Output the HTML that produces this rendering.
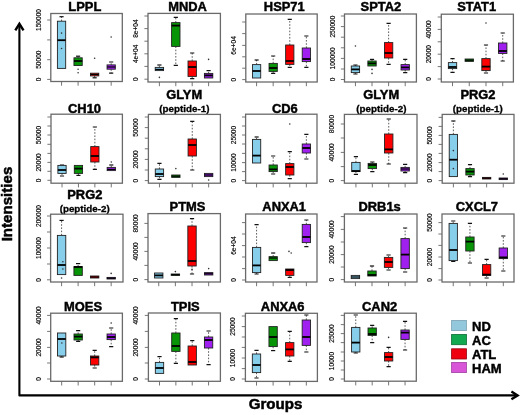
<!DOCTYPE html>
<html><head><meta charset="utf-8"><style>
html,body{margin:0;padding:0;background:#fff;width:520px;height:415px;overflow:hidden}
svg{display:block;will-change:transform;filter:blur(0.3px)}
text{font-family:"Liberation Sans",sans-serif}
.t{font-size:12.9px;font-weight:bold;text-anchor:middle;fill:#000;stroke:#000;stroke-width:0.45}
.s{font-size:9.8px;font-weight:bold;text-anchor:middle;fill:#000;stroke:#000;stroke-width:0.3}
.yl{font-size:6.6px;text-anchor:middle;fill:#000;stroke:#000;stroke-width:0.15}
.lg{font-size:13px;font-weight:bold;fill:#000;stroke:#000;stroke-width:0.45}
.ax{font-size:15.1px;font-weight:bold;text-anchor:middle;fill:#000;stroke:#000;stroke-width:0.5}
.fr{fill:none;stroke:#6a6a6a;stroke-width:1.3}
.tk{fill:none;stroke:#666;stroke-width:0.9}
.bx{stroke:#222;stroke-width:0.9}
.md{stroke:#000;stroke-width:1.8}
.wk{stroke:#333;stroke-width:0.8;stroke-dasharray:1.6 1.6;fill:none}
.cp{stroke:#111;stroke-width:1.2;fill:none}
.ol{fill:#333}
</style></head><body>
<svg width="520" height="415" viewBox="0 0 520 415">
<rect width="520" height="415" fill="#fff"/>
<text x="84.8" y="10.5" class="t">LPPL</text>
<rect x="50.8" y="13.5" width="71.5" height="68" class="fr"/>
<path d="M50.8 20h-3.6M50.8 39.9h-3.6M50.8 59.7h-3.6M50.8 79.4h-3.6M61.55 81.5v4.2M78.09 81.5v4.2M94.63 81.5v4.2M111.18 81.5v4.2" class="tk"/>
<text transform="translate(40.8 20) rotate(-90)" class="yl">150000</text>
<text transform="translate(40.8 59.7) rotate(-90)" class="yl">50000</text>
<text transform="translate(40.8 79.4) rotate(-90)" class="yl">0</text>
<path d="M61.55 21.2V16.7" class="wk"/>
<path d="M59.48 16.7h4.14" class="cp"/>
<rect x="57.41" y="21.2" width="8.27" height="47.2" fill="#87ceeb" class="bx"/>
<path d="M57.41 40.2h8.27" class="md"/>
<circle cx="61.55" cy="33.1" r="0.8" class="ol"/>
<circle cx="61.55" cy="48.5" r="0.8" class="ol"/>
<path d="M78.09 57.8V56.2" class="wk"/>
<path d="M76.02 56.2h4.14" class="cp"/>
<rect x="73.95" y="57.8" width="8.27" height="7.7" fill="#079507" class="bx"/>
<path d="M73.95 61h8.27" class="md"/>
<circle cx="78.09" cy="69.2" r="0.8" class="ol"/>
<circle cx="78.09" cy="72.8" r="0.8" class="ol"/>
<path d="M94.63 75.9V77.8" class="wk"/>
<path d="M92.57 77.8h4.14" class="cp"/>
<rect x="90.5" y="73.2" width="8.27" height="2.7" fill="#ff0000" class="bx"/>
<path d="M90.5 74.5h8.27" class="md" style="stroke-width:1.2"/>
<circle cx="94.63" cy="58.2" r="0.8" class="ol"/>
<path d="M111.18 64.9V62M111.18 69.2V73.2" class="wk"/>
<path d="M109.11 62h4.14M109.11 73.2h4.14" class="cp"/>
<rect x="107.04" y="64.9" width="8.27" height="4.3" fill="#a020f0" class="bx"/>
<path d="M107.04 67h8.27" class="md" style="stroke-width:1.2"/>
<circle cx="111.18" cy="37" r="0.8" class="ol"/>
<text x="187.5" y="10.5" class="t">MNDA</text>
<rect x="148" y="13.4" width="72.4" height="68.6" class="fr"/>
<path d="M148 16h-3.6M148 28.6h-3.6M148 41.2h-3.6M148 53.8h-3.6M148 66.4h-3.6M148 79.2h-3.6M159.4 82v4.2M175.8 82v4.2M192.2 82v4.2M208.6 82v4.2" class="tk"/>
<text transform="translate(138 28.6) rotate(-90)" class="yl">8e+04</text>
<text transform="translate(138 53.8) rotate(-90)" class="yl">4e+04</text>
<text transform="translate(138 79.2) rotate(-90)" class="yl">0</text>
<path d="M159.4 67.4V65" class="wk"/>
<path d="M157.31 65h4.19" class="cp"/>
<rect x="155.21" y="67.4" width="8.38" height="3.2" fill="#87ceeb" class="bx"/>
<path d="M155.21 69.4h8.38" class="md" style="stroke-width:1.2"/>
<circle cx="159.4" cy="77.4" r="0.8" class="ol"/>
<path d="M175.8 22.6V17.4M175.8 46.4V65.4" class="wk"/>
<path d="M173.71 17.4h4.19M173.71 65.4h4.19" class="cp"/>
<rect x="171.61" y="22.6" width="8.38" height="23.8" fill="#079507" class="bx"/>
<path d="M171.61 25.6h8.38" class="md"/>
<path d="M192.2 61V53M192.2 76.4V78.6" class="wk"/>
<path d="M190.11 53h4.19M190.11 78.6h4.19" class="cp"/>
<rect x="188.01" y="61" width="8.38" height="15.4" fill="#ff0000" class="bx"/>
<path d="M188.01 67h8.38" class="md"/>
<path d="M208.6 73.4V70.6" class="wk"/>
<path d="M206.51 70.6h4.19" class="cp"/>
<rect x="204.41" y="73.4" width="8.38" height="4.6" fill="#a020f0" class="bx"/>
<path d="M204.41 75.4h8.38" class="md"/>
<circle cx="208.6" cy="59.4" r="0.8" class="ol"/>
<text x="284.25" y="10.5" class="t">HSP71</text>
<rect x="245.8" y="14" width="71.4" height="68" class="fr"/>
<path d="M245.8 22h-3.6M245.8 33.6h-3.6M245.8 45.4h-3.6M245.8 56.8h-3.6M245.8 68.2h-3.6M245.8 79.6h-3.6M256.59 82v4.2M273.18 82v4.2M289.77 82v4.2M306.36 82v4.2" class="tk"/>
<text transform="translate(235.8 45.4) rotate(-90)" class="yl">6e+04</text>
<text transform="translate(235.8 79.6) rotate(-90)" class="yl">0</text>
<path d="M256.59 64.6V60" class="wk"/>
<path d="M254.52 60h4.13" class="cp"/>
<rect x="252.46" y="64.6" width="8.26" height="13.4" fill="#87ceeb" class="bx"/>
<path d="M252.46 71h8.26" class="md"/>
<path d="M273.18 63.4V56M273.18 71.4V73.4" class="wk"/>
<path d="M271.11 56h4.13M271.11 73.4h4.13" class="cp"/>
<rect x="269.05" y="63.4" width="8.26" height="8" fill="#079507" class="bx"/>
<path d="M269.05 68h8.26" class="md"/>
<path d="M289.77 45V19.4M289.77 64.4V67.4" class="wk"/>
<path d="M287.7 19.4h4.13M287.7 67.4h4.13" class="cp"/>
<rect x="285.64" y="45" width="8.26" height="19.4" fill="#ff0000" class="bx"/>
<path d="M285.64 61h8.26" class="md"/>
<path d="M306.36 48V36M306.36 61.6V67.4" class="wk"/>
<path d="M304.29 36h4.13M304.29 67.4h4.13" class="cp"/>
<rect x="302.23" y="48" width="8.26" height="13.6" fill="#a020f0" class="bx"/>
<path d="M302.23 59h8.26" class="md"/>
<text x="380.9" y="10.5" class="t">SPTA2</text>
<rect x="344.5" y="14" width="71.9" height="68" class="fr"/>
<path d="M344.5 16h-3.6M344.5 26.6h-3.6M344.5 37.2h-3.6M344.5 47.8h-3.6M344.5 58.4h-3.6M344.5 69h-3.6M344.5 79.5h-3.6M355.44 82v4.2M372.03 82v4.2M388.62 82v4.2M405.21 82v4.2" class="tk"/>
<text transform="translate(334.5 26.6) rotate(-90)" class="yl">250000</text>
<text transform="translate(334.5 58.4) rotate(-90)" class="yl">100000</text>
<text transform="translate(334.5 79.5) rotate(-90)" class="yl">0</text>
<path d="M355.44 66V65M355.44 72.6V74" class="wk"/>
<path d="M353.36 65h4.16M353.36 74h4.16" class="cp"/>
<rect x="351.28" y="66" width="8.32" height="6.6" fill="#87ceeb" class="bx"/>
<path d="M351.28 69.4h8.32" class="md"/>
<circle cx="355.44" cy="46" r="0.8" class="ol"/>
<path d="M372.03 61V59.4" class="wk"/>
<path d="M369.95 59.4h4.16" class="cp"/>
<rect x="367.87" y="61" width="8.32" height="5" fill="#079507" class="bx"/>
<path d="M367.87 63.4h8.32" class="md"/>
<circle cx="372.03" cy="69.4" r="0.8" class="ol"/>
<circle cx="372.03" cy="73.4" r="0.8" class="ol"/>
<path d="M388.62 42.6V23.4M388.62 58V64.4" class="wk"/>
<path d="M386.54 23.4h4.16M386.54 64.4h4.16" class="cp"/>
<rect x="384.46" y="42.6" width="8.32" height="15.4" fill="#ff0000" class="bx"/>
<path d="M384.46 53h8.32" class="md"/>
<path d="M405.21 64.6V59.4M405.21 70V72.6" class="wk"/>
<path d="M403.13 59.4h4.16M403.13 72.6h4.16" class="cp"/>
<rect x="401.05" y="64.6" width="8.32" height="5.4" fill="#a020f0" class="bx"/>
<path d="M401.05 67.4h8.32" class="md"/>
<text x="476.7" y="10.5" class="t">STAT1</text>
<rect x="441.3" y="14.2" width="72.1" height="67.8" class="fr"/>
<path d="M441.3 17h-3.6M441.3 29.4h-3.6M441.3 41.8h-3.6M441.3 54.2h-3.6M441.3 66.6h-3.6M441.3 79h-3.6M452.53 82v4.2M469.26 82v4.2M485.99 82v4.2M502.72 82v4.2" class="tk"/>
<text transform="translate(431.3 29.4) rotate(-90)" class="yl">40000</text>
<text transform="translate(431.3 54.2) rotate(-90)" class="yl">20000</text>
<text transform="translate(431.3 79) rotate(-90)" class="yl">0</text>
<path d="M452.53 62.6V58.6M452.53 68.6V72.4" class="wk"/>
<path d="M450.44 58.6h4.17M450.44 72.4h4.17" class="cp"/>
<rect x="448.36" y="62.6" width="8.34" height="6" fill="#87ceeb" class="bx"/>
<path d="M448.36 67h8.34" class="md"/>
<rect x="465.09" y="59" width="8.34" height="2.4" fill="#079507" class="bx"/>
<path d="M465.09 60.2h8.34" class="md" style="stroke-width:1.2"/>
<path d="M485.99 58.6V45M485.99 70.6V73" class="wk"/>
<path d="M483.9 45h4.17M483.9 73h4.17" class="cp"/>
<rect x="481.82" y="58.6" width="8.34" height="12" fill="#ff0000" class="bx"/>
<path d="M481.82 66.6h8.34" class="md"/>
<circle cx="485.99" cy="23" r="0.8" class="ol"/>
<path d="M502.72 43V33M502.72 53.4V61" class="wk"/>
<path d="M500.63 33h4.17M500.63 61h4.17" class="cp"/>
<rect x="498.55" y="43" width="8.34" height="10.4" fill="#a020f0" class="bx"/>
<path d="M498.55 51h8.34" class="md"/>
<text x="84.5" y="112.8" class="t">CH10</text>
<rect x="51" y="114.2" width="71.4" height="69" class="fr"/>
<path d="M51 117h-3.6M51 126h-3.6M51 135h-3.6M51 144.3h-3.6M51 153.4h-3.6M51 162.4h-3.6M51 171.3h-3.6M51 180.3h-3.6M62.02 183.2v4.2M78.44 183.2v4.2M94.86 183.2v4.2M111.28 183.2v4.2" class="tk"/>
<text transform="translate(41 135) rotate(-90)" class="yl">50000</text>
<text transform="translate(41 162.4) rotate(-90)" class="yl">20000</text>
<text transform="translate(41 180.3) rotate(-90)" class="yl">0</text>
<path d="M62.02 173.4V176" class="wk"/>
<path d="M59.95 165h4.13M59.95 176h4.13" class="cp"/>
<rect x="57.89" y="165.4" width="8.26" height="8" fill="#87ceeb" class="bx"/>
<path d="M57.89 170h8.26" class="md"/>
<path d="M78.44 173.4V175.4" class="wk"/>
<path d="M76.37 175.4h4.13" class="cp"/>
<rect x="74.31" y="165.4" width="8.26" height="8" fill="#079507" class="bx"/>
<path d="M74.31 168.6h8.26" class="md"/>
<path d="M94.86 146.6V127M94.86 162V169.4" class="wk"/>
<path d="M92.79 127h4.13M92.79 169.4h4.13" class="cp"/>
<rect x="90.73" y="146.6" width="8.26" height="15.4" fill="#ff0000" class="bx"/>
<path d="M90.73 156h8.26" class="md"/>
<path d="M111.28 167.4V165" class="wk"/>
<path d="M109.21 165h4.13" class="cp"/>
<rect x="107.15" y="167.4" width="8.26" height="3.2" fill="#a020f0" class="bx"/>
<path d="M107.15 169.4h8.26" class="md" style="stroke-width:1.2"/>
<circle cx="111.28" cy="162" r="0.8" class="ol"/>
<text x="184.2" y="99.2" class="t">GLYM</text>
<text x="184.4" y="111.9" class="s">(peptide-1)</text>
<rect x="148.4" y="114.4" width="72" height="68.8" class="fr"/>
<path d="M148.4 117h-3.6M148.4 127.6h-3.6M148.4 138.2h-3.6M148.4 148.8h-3.6M148.4 159.4h-3.6M148.4 170h-3.6M148.4 180.6h-3.6M159.45 183.2v4.2M175.85 183.2v4.2M192.25 183.2v4.2M208.65 183.2v4.2" class="tk"/>
<text transform="translate(138.4 127.6) rotate(-90)" class="yl">50000</text>
<text transform="translate(138.4 159.4) rotate(-90)" class="yl">20000</text>
<text transform="translate(138.4 180.6) rotate(-90)" class="yl">0</text>
<path d="M159.45 169V163.4M159.45 176.6V179.4" class="wk"/>
<path d="M157.37 163.4h4.17M157.37 179.4h4.17" class="cp"/>
<rect x="155.28" y="169" width="8.33" height="7.6" fill="#87ceeb" class="bx"/>
<path d="M155.28 174h8.33" class="md"/>
<rect x="171.68" y="175" width="8.33" height="2.4" fill="#079507" class="bx"/>
<path d="M171.68 176.2h8.33" class="md" style="stroke-width:1.2"/>
<circle cx="175.85" cy="168.6" r="0.8" class="ol"/>
<path d="M192.25 139V121.4M192.25 156V170" class="wk"/>
<path d="M190.17 121.4h4.17M190.17 170h4.17" class="cp"/>
<rect x="188.08" y="139" width="8.33" height="17" fill="#ff0000" class="bx"/>
<path d="M188.08 145h8.33" class="md"/>
<rect x="204.48" y="173.4" width="8.33" height="3.2" fill="#a020f0" class="bx"/>
<path d="M204.48 175h8.33" class="md" style="stroke-width:1.2"/>
<circle cx="208.65" cy="180" r="0.8" class="ol"/>
<text x="284.8" y="112.8" class="t">CD6</text>
<rect x="245.6" y="114.2" width="71.4" height="69" class="fr"/>
<path d="M245.6 117h-3.6M245.6 126h-3.6M245.6 135h-3.6M245.6 144h-3.6M245.6 153.4h-3.6M245.6 162.6h-3.6M245.6 171.6h-3.6M245.6 180.6h-3.6M256.59 183.2v4.2M273.18 183.2v4.2M289.77 183.2v4.2M306.36 183.2v4.2" class="tk"/>
<text transform="translate(235.6 135) rotate(-90)" class="yl">25000</text>
<text transform="translate(235.6 162.6) rotate(-90)" class="yl">10000</text>
<text transform="translate(235.6 180.6) rotate(-90)" class="yl">0</text>
<path d="M256.59 139.4V137" class="wk"/>
<path d="M254.52 137h4.13" class="cp"/>
<rect x="252.46" y="139.4" width="8.26" height="23.6" fill="#87ceeb" class="bx"/>
<path d="M252.46 155.6h8.26" class="md"/>
<path d="M273.18 165V156M273.18 171.6V174" class="wk"/>
<path d="M271.11 156h4.13M271.11 174h4.13" class="cp"/>
<rect x="269.05" y="165" width="8.26" height="6.6" fill="#079507" class="bx"/>
<path d="M269.05 169.4h8.26" class="md"/>
<path d="M289.77 163.6V151.6M289.77 175V178.6" class="wk"/>
<path d="M287.7 151.6h4.13M287.7 178.6h4.13" class="cp"/>
<rect x="285.64" y="163.6" width="8.26" height="11.4" fill="#ff0000" class="bx"/>
<path d="M285.64 167h8.26" class="md"/>
<circle cx="289.77" cy="124" r="0.8" class="ol"/>
<path d="M306.36 144V134.4M306.36 153V159" class="wk"/>
<path d="M304.29 134.4h4.13M304.29 159h4.13" class="cp"/>
<rect x="302.23" y="144" width="8.26" height="9" fill="#a020f0" class="bx"/>
<path d="M302.23 148h8.26" class="md"/>
<text x="381.2" y="99.2" class="t">GLYM</text>
<text x="381.4" y="111.9" class="s">(peptide-2)</text>
<rect x="344.4" y="114.4" width="72.6" height="68.8" class="fr"/>
<path d="M344.4 124h-3.6M344.4 138h-3.6M344.4 152.4h-3.6M344.4 166.6h-3.6M344.4 180.6h-3.6M355.91 183.2v4.2M372.32 183.2v4.2M388.73 183.2v4.2M405.14 183.2v4.2" class="tk"/>
<text transform="translate(334.4 124) rotate(-90)" class="yl">80000</text>
<text transform="translate(334.4 152.4) rotate(-90)" class="yl">40000</text>
<text transform="translate(334.4 180.6) rotate(-90)" class="yl">0</text>
<path d="M355.91 162.4V156.6M355.91 171.6V174.4" class="wk"/>
<path d="M353.81 156.6h4.2M353.81 174.4h4.2" class="cp"/>
<rect x="351.71" y="162.4" width="8.4" height="9.2" fill="#87ceeb" class="bx"/>
<path d="M351.71 171h8.4" class="md"/>
<path d="M372.32 163.4V162M372.32 168.6V171.6" class="wk"/>
<path d="M370.22 162h4.2M370.22 171.6h4.2" class="cp"/>
<rect x="368.12" y="163.4" width="8.4" height="5.2" fill="#079507" class="bx"/>
<path d="M368.12 165h8.4" class="md"/>
<path d="M388.73 134V119M388.73 153V164" class="wk"/>
<path d="M386.63 119h4.2M386.63 164h4.2" class="cp"/>
<rect x="384.53" y="134" width="8.4" height="19" fill="#ff0000" class="bx"/>
<path d="M384.53 149.4h8.4" class="md"/>
<path d="M405.14 167.4V164.4M405.14 171V172.6" class="wk"/>
<path d="M403.04 164.4h4.2M403.04 172.6h4.2" class="cp"/>
<rect x="400.94" y="167.4" width="8.4" height="3.6" fill="#a020f0" class="bx"/>
<path d="M400.94 169h8.4" class="md" style="stroke-width:1.2"/>
<text x="478" y="99.2" class="t">PRG2</text>
<text x="477.8" y="111.9" class="s">(peptide-1)</text>
<rect x="442.2" y="114.4" width="71.8" height="68.8" class="fr"/>
<path d="M442.2 117.4h-3.6M442.2 126.4h-3.6M442.2 135.4h-3.6M442.2 144.4h-3.6M442.2 153.4h-3.6M442.2 162.6h-3.6M442.2 171.6h-3.6M442.2 180.6h-3.6M453.38 183.2v4.2M470.01 183.2v4.2M486.64 183.2v4.2M503.27 183.2v4.2" class="tk"/>
<text transform="translate(432.2 135.4) rotate(-90)" class="yl">50000</text>
<text transform="translate(432.2 162.6) rotate(-90)" class="yl">20000</text>
<text transform="translate(432.2 180.6) rotate(-90)" class="yl">0</text>
<path d="M453.38 134.4V121" class="wk"/>
<path d="M451.3 121h4.15" class="cp"/>
<rect x="449.23" y="134.4" width="8.31" height="42.2" fill="#87ceeb" class="bx"/>
<path d="M449.23 159.7h8.31" class="md"/>
<circle cx="453.38" cy="150.6" r="0.8" class="ol"/>
<circle cx="453.38" cy="168.6" r="0.8" class="ol"/>
<path d="M470.01 168.6V164.6M470.01 175V176.6" class="wk"/>
<path d="M467.93 164.6h4.15M467.93 176.6h4.15" class="cp"/>
<rect x="465.86" y="168.6" width="8.31" height="6.4" fill="#079507" class="bx"/>
<path d="M465.86 171.6h8.31" class="md"/>
<rect x="482.49" y="177.4" width="8.31" height="1.6" fill="#ff0000" class="bx"/>
<path d="M482.49 178.2h8.31" class="md" style="stroke-width:1.2"/>
<rect x="499.12" y="178" width="8.31" height="1.6" fill="#a020f0" class="bx"/>
<path d="M499.12 178.8h8.31" class="md" style="stroke-width:1.2"/>
<circle cx="503.27" cy="174" r="0.8" class="ol"/>
<text x="84.8" y="199.1" class="t">PRG2</text>
<text x="84.7" y="211.9" class="s">(peptide-2)</text>
<rect x="50.6" y="214.2" width="72.4" height="67.8" class="fr"/>
<path d="M50.6 216h-3.6M50.6 232h-3.6M50.6 248h-3.6M50.6 264h-3.6M50.6 279.8h-3.6M61.58 282v4.2M78.11 282v4.2M94.64 282v4.2M111.17 282v4.2" class="tk"/>
<text transform="translate(40.6 216) rotate(-90)" class="yl">200000</text>
<text transform="translate(40.6 248) rotate(-90)" class="yl">100000</text>
<text transform="translate(40.6 279.8) rotate(-90)" class="yl">0</text>
<path d="M61.58 235.4V220.4" class="wk"/>
<path d="M59.49 220.4h4.19" class="cp"/>
<rect x="57.39" y="235.4" width="8.38" height="39.2" fill="#87ceeb" class="bx"/>
<path d="M57.39 265h8.38" class="md"/>
<circle cx="61.58" cy="278" r="0.8" class="ol"/>
<circle cx="62.88" cy="261.8" r="0.8" class="ol"/>
<circle cx="62.88" cy="269" r="0.8" class="ol"/>
<path d="M78.11 266.6V263.6" class="wk"/>
<path d="M76.02 263.6h4.19" class="cp"/>
<rect x="73.92" y="266.6" width="8.38" height="8.8" fill="#079507" class="bx"/>
<path d="M73.92 267h8.38" class="md"/>
<rect x="90.45" y="276" width="8.38" height="2" fill="#ff0000" class="bx"/>
<path d="M90.45 277h8.38" class="md" style="stroke-width:1.2"/>
<rect x="106.98" y="277.4" width="8.38" height="1.6" fill="#a020f0" class="bx"/>
<path d="M106.98 278.2h8.38" class="md" style="stroke-width:1.2"/>
<circle cx="111.17" cy="273.4" r="0.8" class="ol"/>
<text x="187.5" y="210.5" class="t">PTMS</text>
<rect x="148" y="213.6" width="72.4" height="68.4" class="fr"/>
<path d="M148 223.4h-3.6M148 237.4h-3.6M148 251.4h-3.6M148 265.4h-3.6M148 279.6h-3.6M158.74 282v4.2M175.38 282v4.2M192.02 282v4.2M208.66 282v4.2" class="tk"/>
<text transform="translate(138 223.4) rotate(-90)" class="yl">80000</text>
<text transform="translate(138 251.4) rotate(-90)" class="yl">40000</text>
<text transform="translate(138 279.6) rotate(-90)" class="yl">0</text>
<rect x="154.55" y="273" width="8.38" height="5" fill="#87ceeb" class="bx"/>
<path d="M154.55 275.4h8.38" class="md"/>
<rect x="171.19" y="274" width="8.38" height="1.4" fill="#079507" class="bx"/>
<path d="M171.19 274.7h8.38" class="md" style="stroke-width:1.2"/>
<circle cx="175.38" cy="271.6" r="0.8" class="ol"/>
<path d="M192.02 226V218.6M192.02 266V274" class="wk"/>
<path d="M189.93 218.6h4.19M189.93 274h4.19" class="cp"/>
<rect x="187.83" y="226" width="8.38" height="40" fill="#ff0000" class="bx"/>
<path d="M187.83 261h8.38" class="md"/>
<circle cx="192.02" cy="269.4" r="0.8" class="ol"/>
<rect x="204.47" y="272.6" width="8.38" height="2.4" fill="#a020f0" class="bx"/>
<path d="M204.47 273.8h8.38" class="md" style="stroke-width:1.2"/>
<circle cx="208.66" cy="268.6" r="0.8" class="ol"/>
<text x="284.2" y="210.5" class="t">ANXA1</text>
<rect x="245.6" y="214" width="71.4" height="68" class="fr"/>
<path d="M245.6 222.6h-3.6M245.6 234h-3.6M245.6 245.6h-3.6M245.6 257h-3.6M245.6 268.6h-3.6M245.6 280h-3.6M256.59 282v4.2M273.18 282v4.2M289.77 282v4.2M306.36 282v4.2" class="tk"/>
<text transform="translate(235.6 245.6) rotate(-90)" class="yl">6e+04</text>
<text transform="translate(235.6 280) rotate(-90)" class="yl">0</text>
<path d="M256.59 247.4V224.6M256.59 272.6V274" class="wk"/>
<path d="M254.52 224.6h4.13M254.52 274h4.13" class="cp"/>
<rect x="252.46" y="247.4" width="8.26" height="25.2" fill="#87ceeb" class="bx"/>
<path d="M252.46 265.4h8.26" class="md"/>
<path d="M273.18 256.6V253" class="wk"/>
<path d="M271.11 253h4.13" class="cp"/>
<rect x="269.05" y="256.6" width="8.26" height="4" fill="#079507" class="bx"/>
<path d="M269.05 258h8.26" class="md" style="stroke-width:1.2"/>
<path d="M289.77 275.4V277.4" class="wk"/>
<path d="M287.7 277.4h4.13" class="cp"/>
<rect x="285.64" y="269" width="8.26" height="6.4" fill="#ff0000" class="bx"/>
<path d="M285.64 270h8.26" class="md"/>
<circle cx="288.97" cy="251.4" r="0.8" class="ol"/>
<circle cx="291.17" cy="253" r="0.8" class="ol"/>
<path d="M306.36 224.4V220M306.36 242.6V246.6" class="wk"/>
<path d="M304.29 220h4.13M304.29 246.6h4.13" class="cp"/>
<rect x="302.23" y="224.4" width="8.26" height="18.2" fill="#a020f0" class="bx"/>
<path d="M302.23 237h8.26" class="md"/>
<text x="379.6" y="210.5" class="t">DRB1s</text>
<rect x="344.4" y="214" width="72.6" height="68" class="fr"/>
<path d="M344.4 216.6h-3.6M344.4 229.4h-3.6M344.4 242h-3.6M344.4 254.6h-3.6M344.4 267h-3.6M344.4 279.6h-3.6M355.42 282v4.2M371.99 282v4.2M388.56 282v4.2M405.13 282v4.2" class="tk"/>
<text transform="translate(334.4 229.4) rotate(-90)" class="yl">40000</text>
<text transform="translate(334.4 254.6) rotate(-90)" class="yl">20000</text>
<text transform="translate(334.4 279.6) rotate(-90)" class="yl">0</text>
<rect x="351.22" y="275.4" width="8.4" height="3.2" fill="#87ceeb" class="bx"/>
<path d="M351.22 277h8.4" class="md" style="stroke-width:1.2"/>
<path d="M371.99 271V266" class="wk"/>
<path d="M369.89 266h4.2" class="cp"/>
<rect x="367.79" y="271" width="8.4" height="5" fill="#079507" class="bx"/>
<path d="M367.79 275h8.4" class="md"/>
<path d="M388.56 257.4V255M388.56 267.4V270" class="wk"/>
<path d="M386.46 255h4.2M386.46 270h4.2" class="cp"/>
<rect x="384.36" y="257.4" width="8.4" height="10" fill="#ff0000" class="bx"/>
<path d="M384.36 262h8.4" class="md"/>
<path d="M405.13 238.6V228M405.13 268.6V272" class="wk"/>
<path d="M403.03 228h4.2M403.03 272h4.2" class="cp"/>
<rect x="400.93" y="238.6" width="8.4" height="30" fill="#a020f0" class="bx"/>
<path d="M400.93 254.6h8.4" class="md"/>
<text x="476.9" y="210.5" class="t">CXCL7</text>
<rect x="442" y="214" width="72" height="68" class="fr"/>
<path d="M442 222.6h-3.6M442 234h-3.6M442 245.4h-3.6M442 257h-3.6M442 268.6h-3.6M442 280h-3.6M453.24 282v4.2M469.93 282v4.2M486.62 282v4.2M503.31 282v4.2" class="tk"/>
<text transform="translate(432 222.6) rotate(-90)" class="yl">50000</text>
<text transform="translate(432 257) rotate(-90)" class="yl">20000</text>
<text transform="translate(432 280) rotate(-90)" class="yl">0</text>
<path d="M453.24 223.4V221M453.24 260.6V261.4" class="wk"/>
<path d="M451.16 221h4.17M451.16 261.4h4.17" class="cp"/>
<rect x="449.07" y="223.4" width="8.33" height="37.2" fill="#87ceeb" class="bx"/>
<path d="M449.07 250h8.33" class="md"/>
<path d="M469.93 237V223.4M469.93 251V263" class="wk"/>
<path d="M467.85 223.4h4.17M467.85 263h4.17" class="cp"/>
<rect x="465.76" y="237" width="8.33" height="14" fill="#079507" class="bx"/>
<path d="M465.76 241.6h8.33" class="md"/>
<path d="M486.62 264.6V259.4M486.62 275.4V278" class="wk"/>
<path d="M484.54 259.4h4.17M484.54 278h4.17" class="cp"/>
<rect x="482.45" y="264.6" width="8.33" height="10.8" fill="#ff0000" class="bx"/>
<path d="M482.45 274.6h8.33" class="md"/>
<path d="M503.31 248V236M503.31 258.6V271" class="wk"/>
<path d="M501.23 236h4.17M501.23 271h4.17" class="cp"/>
<rect x="499.14" y="248" width="8.33" height="10.6" fill="#a020f0" class="bx"/>
<path d="M499.14 257.4h8.33" class="md"/>
<text x="83" y="311.2" class="t">MOES</text>
<rect x="50.7" y="313.2" width="71.7" height="68.1" class="fr"/>
<path d="M50.7 315.4h-3.6M50.7 331.4h-3.6M50.7 347.4h-3.6M50.7 363h-3.6M50.7 379h-3.6M61.66 381.3v4.2M78.17 381.3v4.2M94.68 381.3v4.2M111.19 381.3v4.2" class="tk"/>
<text transform="translate(40.7 315.4) rotate(-90)" class="yl">40000</text>
<text transform="translate(40.7 347.4) rotate(-90)" class="yl">20000</text>
<text transform="translate(40.7 379) rotate(-90)" class="yl">0</text>
<path d="M61.66 356V357" class="wk"/>
<path d="M59.59 357h4.15" class="cp"/>
<rect x="57.51" y="333" width="8.3" height="23" fill="#87ceeb" class="bx"/>
<path d="M57.51 339h8.3" class="md"/>
<circle cx="61.86" cy="343" r="0.8" class="ol"/>
<path d="M78.17 334V330.6M78.17 340V341.4" class="wk"/>
<path d="M76.1 330.6h4.15M76.1 341.4h4.15" class="cp"/>
<rect x="74.02" y="334" width="8.3" height="6" fill="#079507" class="bx"/>
<path d="M74.02 336.6h8.3" class="md"/>
<path d="M94.68 356V350.4M94.68 365V368" class="wk"/>
<path d="M92.61 350.4h4.15M92.61 368h4.15" class="cp"/>
<rect x="90.53" y="356" width="8.3" height="9" fill="#ff0000" class="bx"/>
<path d="M90.53 357.4h8.3" class="md"/>
<path d="M111.19 334V328M111.19 339.6V346.6" class="wk"/>
<path d="M109.12 328h4.15M109.12 346.6h4.15" class="cp"/>
<rect x="107.04" y="334" width="8.3" height="5.6" fill="#a020f0" class="bx"/>
<path d="M107.04 337h8.3" class="md"/>
<circle cx="111.19" cy="323" r="0.8" class="ol"/>
<text x="185.3" y="311.2" class="t">TPIS</text>
<rect x="148.4" y="313" width="72" height="68.3" class="fr"/>
<path d="M148.4 315.4h-3.6M148.4 331.4h-3.6M148.4 347.4h-3.6M148.4 363h-3.6M148.4 379h-3.6M159.51 381.3v4.2M175.87 381.3v4.2M192.23 381.3v4.2M208.59 381.3v4.2" class="tk"/>
<text transform="translate(138.4 315.4) rotate(-90)" class="yl">40000</text>
<text transform="translate(138.4 347.4) rotate(-90)" class="yl">20000</text>
<text transform="translate(138.4 379) rotate(-90)" class="yl">0</text>
<path d="M159.51 362.4V356.6" class="wk"/>
<path d="M157.43 356.6h4.17" class="cp"/>
<rect x="155.34" y="362.4" width="8.33" height="11" fill="#87ceeb" class="bx"/>
<path d="M155.34 368h8.33" class="md"/>
<path d="M175.87 333V318.6M175.87 351.4V363.4" class="wk"/>
<path d="M173.79 318.6h4.17M173.79 363.4h4.17" class="cp"/>
<rect x="171.7" y="333" width="8.33" height="18.4" fill="#079507" class="bx"/>
<path d="M171.7 346h8.33" class="md"/>
<path d="M192.23 346V340.6" class="wk"/>
<path d="M190.15 340.6h4.17" class="cp"/>
<rect x="188.06" y="346" width="8.33" height="19" fill="#ff0000" class="bx"/>
<path d="M188.06 362h8.33" class="md"/>
<path d="M208.59 337V331M208.59 348V364.6" class="wk"/>
<path d="M206.51 331h4.17M206.51 364.6h4.17" class="cp"/>
<rect x="204.42" y="337" width="8.33" height="11" fill="#a020f0" class="bx"/>
<path d="M204.42 340h8.33" class="md"/>
<text x="282.7" y="311.2" class="t">ANXA6</text>
<rect x="245.4" y="313.3" width="72" height="68.1" class="fr"/>
<path d="M245.4 316h-3.6M245.4 326.6h-3.6M245.4 337h-3.6M245.4 347.4h-3.6M245.4 358h-3.6M245.4 368.6h-3.6M245.4 379h-3.6M256.51 381.4v4.2M273.12 381.4v4.2M289.73 381.4v4.2M306.34 381.4v4.2" class="tk"/>
<text transform="translate(235.4 326.6) rotate(-90)" class="yl">25000</text>
<text transform="translate(235.4 358) rotate(-90)" class="yl">10000</text>
<text transform="translate(235.4 379) rotate(-90)" class="yl">0</text>
<path d="M256.51 354V350.4M256.51 372.6V378" class="wk"/>
<path d="M254.43 350.4h4.17M254.43 378h4.17" class="cp"/>
<rect x="252.34" y="354" width="8.33" height="18.6" fill="#87ceeb" class="bx"/>
<path d="M252.34 365h8.33" class="md"/>
<path d="M273.12 346.6V350.6" class="wk"/>
<path d="M271.04 350.6h4.17" class="cp"/>
<rect x="268.95" y="326.6" width="8.33" height="20" fill="#079507" class="bx"/>
<path d="M268.95 337h8.33" class="md"/>
<path d="M289.73 342.6V331.4M289.73 356V361.4" class="wk"/>
<path d="M287.65 331.4h4.17M287.65 361.4h4.17" class="cp"/>
<rect x="285.56" y="342.6" width="8.33" height="13.4" fill="#ff0000" class="bx"/>
<path d="M285.56 349.4h8.33" class="md"/>
<path d="M306.34 320V315M306.34 345.4V352" class="wk"/>
<path d="M304.26 315h4.17M304.26 352h4.17" class="cp"/>
<rect x="302.17" y="320" width="8.33" height="25.4" fill="#a020f0" class="bx"/>
<path d="M302.17 337h8.33" class="md"/>
<text x="379.6" y="311.2" class="t">CAN2</text>
<rect x="344.4" y="313.2" width="71.9" height="68" class="fr"/>
<path d="M344.4 315.4h-3.6M344.4 324.6h-3.6M344.4 333.6h-3.6M344.4 342.6h-3.6M344.4 352h-3.6M344.4 361h-3.6M344.4 370h-3.6M344.4 379h-3.6M355.74 381.2v4.2M372.18 381.2v4.2M388.62 381.2v4.2M405.06 381.2v4.2" class="tk"/>
<text transform="translate(334.4 333.6) rotate(-90)" class="yl">25000</text>
<text transform="translate(334.4 361) rotate(-90)" class="yl">10000</text>
<text transform="translate(334.4 379) rotate(-90)" class="yl">0</text>
<path d="M355.74 327.4V315M355.74 352V353" class="wk"/>
<path d="M353.66 315h4.16M353.66 353h4.16" class="cp"/>
<rect x="351.58" y="327.4" width="8.32" height="24.6" fill="#87ceeb" class="bx"/>
<path d="M351.58 342.6h8.32" class="md"/>
<path d="M372.18 328V325.4M372.18 335.4V342.6" class="wk"/>
<path d="M370.1 325.4h4.16M370.1 342.6h4.16" class="cp"/>
<rect x="368.02" y="328" width="8.32" height="7.4" fill="#079507" class="bx"/>
<path d="M368.02 334h8.32" class="md"/>
<path d="M388.62 352.6V347.4M388.62 361V366.6" class="wk"/>
<path d="M386.54 347.4h4.16M386.54 366.6h4.16" class="cp"/>
<rect x="384.46" y="352.6" width="8.32" height="8.4" fill="#ff0000" class="bx"/>
<path d="M384.46 357h8.32" class="md"/>
<circle cx="388.62" cy="337.4" r="0.8" class="ol"/>
<path d="M405.06 330V321.4M405.06 339.4V350" class="wk"/>
<path d="M402.98 321.4h4.16M402.98 350h4.16" class="cp"/>
<rect x="400.9" y="330" width="8.32" height="9.4" fill="#a020f0" class="bx"/>
<path d="M400.9 332.6h8.32" class="md"/>
<rect x="451.6" y="320.4" width="14.8" height="10.2" fill="#93c8dc" stroke="#7aa0b2" stroke-width="0.8"/>
<text x="472.0" y="331.2" class="lg">ND</text>
<rect x="451.6" y="334.5" width="14.8" height="10.2" fill="#12a850" stroke="#0a6a30" stroke-width="0.8"/>
<text x="472.0" y="344.8" class="lg">AC</text>
<rect x="451.6" y="348.8" width="14.8" height="10.2" fill="#ee0010" stroke="#900010" stroke-width="0.8"/>
<text x="472.0" y="359.3" class="lg">ATL</text>
<rect x="451.6" y="362.4" width="14.8" height="10.2" fill="#d855d8" stroke="#a040a0" stroke-width="0.8"/>
<text x="472.0" y="373.1" class="lg">HAM</text>
<path d="M19.4 24.2V395.4H517" stroke="#000" stroke-width="2.1" fill="none" stroke-linejoin="round"/>
<path d="M15.3 30.4L19.4 23.8L23.5 30.4" stroke="#000" stroke-width="2.4" fill="none" stroke-linejoin="miter"/>
<path d="M511.4 391.5L517.6 395.4L511.4 399.3" stroke="#000" stroke-width="2.4" fill="none"/>
<text transform="translate(11.8 204) rotate(-90)" class="ax">Intensities</text>
<text x="275.5" y="409.1" class="ax">Groups</text>
</svg>
</body></html>
